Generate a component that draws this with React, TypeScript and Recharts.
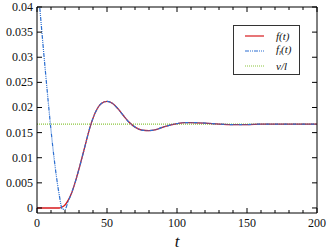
import React from 'react'
import { LineChart, Line, XAxis, YAxis } from 'recharts'

const T = [0, 2, 4, 6, 8, 10, 12, 14, 16, 18, 20, 22, 25, 28, 31, 34, 38, 42, 46, 50, 54, 58, 62, 66, 70, 75, 80, 85, 90, 95, 100, 105, 110, 120, 130, 140, 150, 160, 170, 180, 190, 200]
const F = [0, 0, 0, 0, 0, 0, 0, 0, 0, 0.0002, 0.0006, 0.0014, 0.0032, 0.0058, 0.0088, 0.012, 0.0162, 0.0192, 0.0208, 0.0212, 0.0208, 0.0197, 0.0183, 0.017, 0.0161, 0.0155, 0.0154, 0.0156, 0.0161, 0.0165, 0.0168, 0.017, 0.017, 0.0169, 0.0167, 0.0166, 0.0166, 0.0167, 0.0167, 0.0167, 0.0167, 0.0167]
const FL = [null, 0.0398, 0.0334, 0.0272, 0.0212, 0.0155, 0.0104, 0.006, 0.0024, -0.0002, -0.0003, 0.0011, 0.0032, 0.0058, 0.0088, 0.012, 0.0162, 0.0192, 0.0208, 0.0212, 0.0208, 0.0197, 0.0183, 0.017, 0.0161, 0.0155, 0.0154, 0.0156, 0.0161, 0.0165, 0.0168, 0.017, 0.017, 0.0169, 0.0167, 0.0166, 0.0166, 0.0167, 0.0167, 0.0167, 0.0167, 0.0167]
const V_OVER_L = 0.0167

const X_TICKS = [0, 10, 20, 30, 40, 50, 60, 70, 80, 90, 100, 110, 120, 130, 140, 150, 160, 170, 180, 190, 200]
const Y_TICKS = [0, 0.005, 0.01, 0.015, 0.02, 0.025, 0.03, 0.035, 0.04]

const data = T.map((t, i) => ({ t, f: F[i], fl: FL[i], vl: V_OVER_L }))

const FONT = 'Liberation Serif'

const BottomTick = ({ x, y, payload }: any) => {
  const major = payload.value % 50 === 0
  return (
    <g>
      <line x1={x} y1={y} x2={x} y2={y - (major ? 5 : 3)} stroke="#000" />
      {major && (
        <text x={x} y={y + 14} textAnchor="middle" fontFamily={FONT} fontSize={12} fill="#111">
          {payload.value}
        </text>
      )}
    </g>
  )
}

const TopTick = ({ x, y, payload }: any) => {
  const major = payload.value % 50 === 0
  return <line x1={x} y1={y} x2={x} y2={y + (major ? 5 : 3)} stroke="#000" />
}

const LeftTick = ({ x, y, payload }: any) => (
  <g>
    <line x1={x} y1={y} x2={x + 5} y2={y} stroke="#000" />
    <text x={x - 4} y={y + 4} textAnchor="end" fontFamily={FONT} fontSize={12} fill="#111">
      {payload.value}
    </text>
  </g>
)

const RightTick = ({ x, y }: any) => <line x1={x} y1={y} x2={x - 5} y2={y} stroke="#000" />

const LegendBox = () => (
  <div
    style={{
      position: 'absolute',
      left: 233,
      top: 25,
      width: 67,
      height: 50,
      border: '1px solid #333',
      background: '#fff',
      fontFamily: FONT,
      fontStyle: 'italic',
      fontSize: 11,
      color: '#111',
      boxSizing: 'border-box',
    }}
  >
    {[
      { label: <span>f(t)</span>, color: '#d7191c', dash: undefined as string | undefined },
      { label: <span>f<sub style={{ fontSize: 7, verticalAlign: '-2px' }}>l</sub>(t)</span>, color: '#2c6fd1', dash: '4 1 1 1 1 1' },
      { label: <span>v/l</span>, color: '#8cc63f', dash: '1 1' },
    ].map((e, i) => (
      <div key={i} style={{ position: 'absolute', left: 11, top: 4 + i * 15, height: 12, display: 'flex', alignItems: 'center' }}>
        <svg width={20} height={4}>
          <line x1={0} y1={2} x2={19} y2={2} stroke={e.color} strokeWidth={1.2} strokeDasharray={e.dash} />
        </svg>
        <span style={{ marginLeft: 11, lineHeight: '12px' }}>{e.label}</span>
      </div>
    ))}
  </div>
)

export default function App() {
  return (
    <div style={{ position: 'absolute', left: 0, top: 0, width: 333, height: 251, background: '#fff' }}>
      <LineChart width={333} height={251} data={data} margin={{ top: 6, right: 15, bottom: 8, left: 7 }}>
        <XAxis
          xAxisId="b"
          dataKey="t"
          type="number"
          domain={[0, 200]}
          ticks={X_TICKS}
          interval={0}
          height={30}
          tickSize={0}
          tickMargin={0}
          tickLine={false}
          axisLine={{ stroke: '#000' }}
          tick={<BottomTick />}
        />
        <XAxis
          xAxisId="top"
          orientation="top"
          dataKey="t"
          type="number"
          domain={[0, 200]}
          ticks={X_TICKS}
          interval={0}
          height={1}
          tickSize={0}
          tickMargin={0}
          tickLine={false}
          axisLine={{ stroke: '#000' }}
          tick={<TopTick />}
        />
        <YAxis
          yAxisId="l"
          type="number"
          domain={[-0.001, 0.04]}
          ticks={Y_TICKS}
          interval={0}
          width={30}
          tickSize={0}
          tickMargin={0}
          tickLine={false}
          allowDataOverflow
          axisLine={{ stroke: '#000' }}
          tick={<LeftTick />}
        />
        <YAxis
          yAxisId="r"
          orientation="right"
          type="number"
          domain={[-0.001, 0.04]}
          ticks={Y_TICKS}
          interval={0}
          width={1}
          tickSize={0}
          tickMargin={0}
          tickLine={false}
          allowDataOverflow
          axisLine={{ stroke: '#000' }}
          tick={<RightTick />}
        />
        <Line xAxisId="b" yAxisId="l" dataKey="vl" stroke="#8cc63f" strokeWidth={1.2} strokeDasharray="1 1" dot={false} isAnimationActive={false} />
        <Line xAxisId="b" yAxisId="l" type="monotone" dataKey="f" stroke="#d7191c" strokeWidth={1.3} dot={false} isAnimationActive={false} />
        <Line xAxisId="b" yAxisId="l" type="monotone" dataKey="fl" stroke="#2c6fd1" strokeWidth={1.2} strokeDasharray="4 1 1 1 1 1" dot={false} isAnimationActive={false} />
        <text x={177} y={247} textAnchor="middle" fontFamily={FONT} fontStyle="italic" fontSize={17} fill="#111">
          t
        </text>
      </LineChart>
      <LegendBox />
    </div>
  )
}
